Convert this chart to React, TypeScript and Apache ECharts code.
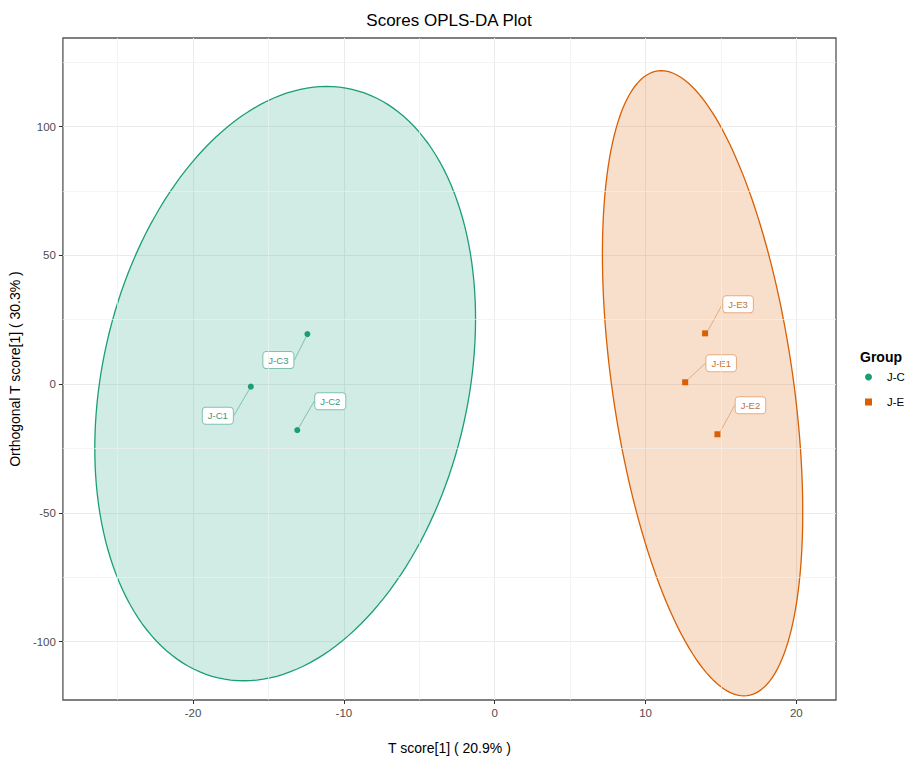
import React, { useEffect, useRef } from "react";
import * as echarts from "echarts";

// ---- data ----
const groupNames = ["J-C", "J-E"];
const groupColors = ["#1B9E77", "#D95F02"];
const groupFills = ["rgba(27,158,119,0.2)", "rgba(217,95,2,0.2)"];
const labelTextColors = ["#3f967c", "#c2743a"];
const labelBorderColors = ["#7fc2ad", "#e6ac80"];

const sampleNames = ["J-C1", "J-C2", "J-C3", "J-E1", "J-E2", "J-E3"];
const sampleGroups = ["J-C", "J-C", "J-C", "J-E", "J-E", "J-E"];
const tScore = [-16.17, -13.09, -12.42, 12.63, 14.77, 13.95];
const orthScore = [-1.0, -17.9, 19.4, 0.7, -19.5, 19.7];

// label box offsets (px) from each point, as placed by the repel layout
const labelOffsets: [number, number][] = [
  [-33, 29],
  [33, -29],
  [-29, 26],
  [36, -19],
  [33, -29],
  [33, -29],
];

// confidence ellipses (centred on each group mean), read off the picture as
// conjugate semi-diameters in data units:
// U = centre -> topmost point, V = centre -> right end of the horizontal chord
const ellipseU: [number, number][] = [
  [2.75, 115.4],
  [-2.74, 121.4],
];
const ellipseV: [number, number][] = [
  [12.32, 0],
  [6.05, 0],
];

// axis ticks / grid
const xMajorTicks = [-20, -10, 0, 10, 20];
const yMajorTicks = [-100, -50, 0, 50, 100];
const xMinorGrid = [-25, -15, -5, 5, 15];
const yMinorGrid = [-75, -25, 25, 75, 125];
const xRange = [-28.63, 22.63];
const yRange = [-122.7, 134.4];

const FONT = "'Liberation Sans', Arial, Helvetica, sans-serif";

export default function App() {
  const ref = useRef<HTMLDivElement>(null);

  useEffect(() => {
    if (!ref.current) return;
    const chart = echarts.init(ref.current, undefined, { renderer: "svg" });

    const ellipseSeries = groupNames.map((g, gi) => {
      const idx = sampleNames.map((_, i) => i).filter((i) => sampleGroups[i] === g);
      const cx = idx.reduce((s, i) => s + tScore[i], 0) / idx.length;
      const cy = idx.reduce((s, i) => s + orthScore[i], 0) / idx.length;
      const U = ellipseU[gi];
      const V = ellipseV[gi];
      return {
        type: "custom",
        name: "ellipse-" + g,
        silent: true,
        z: 1,
        data: [[cx, cy]],
        encode: { x: 0, y: 1 },
        renderItem: (params: any, api: any) => {
          const points: number[][] = [];
          const N = 180;
          for (let k = 0; k < N; k++) {
            const t = (2 * Math.PI * k) / N;
            const s = Math.sin(t);
            const c = Math.cos(t);
            points.push(api.coord([cx + U[0] * s + V[0] * c, cy + U[1] * s + V[1] * c]));
          }
          return {
            type: "polygon",
            shape: { points },
            style: {
              fill: groupFills[gi],
              stroke: groupColors[gi],
              lineWidth: 1.3,
            },
          };
        },
      };
    });

    const pointSeries = groupNames.map((g, gi) => {
      const idx = sampleNames.map((_, i) => i).filter((i) => sampleGroups[i] === g);
      return {
        type: "scatter",
        name: g,
        z: 3,
        symbol: gi === 0 ? "circle" : "rect",
        symbolSize: 6,
        itemStyle: { color: groupColors[gi], opacity: 1 },
        data: idx.map((i) => ({ name: sampleNames[i], value: [tScore[i], orthScore[i]] })),
        label: {
          show: true,
          position: "inside",
          formatter: "{b}",
          fontFamily: FONT,
          fontSize: 9.5,
          color: labelTextColors[gi],
          backgroundColor: "#ffffff",
          borderColor: labelBorderColors[gi],
          borderWidth: 1,
          borderRadius: 3,
          padding: [3, 5, 3, 5],
        },
        labelLine: {
          show: true,
          lineStyle: { color: labelBorderColors[gi], width: 1 },
        },
        labelLayout: (p: any) => {
          const off = labelOffsets[idx[p.dataIndex]];
          return { dx: off[0], dy: off[1] };
        },
        emphasis: { disabled: true },
      };
    });

    const gridHelper = {
      type: "scatter",
      name: "__minorgrid",
      z: 0,
      silent: true,
      data: [],
      markLine: {
        silent: true,
        symbol: ["none", "none"],
        label: { show: false },
        lineStyle: { color: "#EFEFEF", width: 0.7, type: "solid" },
        data: [
          ...xMinorGrid.map((v) => ({ xAxis: v })),
          ...yMinorGrid.map((v) => ({ yAxis: v })),
        ],
      },
    };

    chart.setOption({
      animation: false,
      backgroundColor: "#ffffff",
      textStyle: { fontFamily: FONT },
      title: [
        {
          text: "Scores OPLS-DA Plot",
          left: 449,
          top: 12,
          textAlign: "center",
          padding: 0,
          textStyle: { fontFamily: FONT, fontSize: 17, fontWeight: "normal", color: "#000" },
        },
        {
          text: "Group",
          left: 860,
          top: 350,
          padding: 0,
          textStyle: { fontFamily: FONT, fontSize: 14, fontWeight: "bold", color: "#000" },
        },
      ],
      legend: {
        data: [
          { name: "J-C", icon: "circle" },
          { name: "J-E", icon: "rect" },
        ],
        orient: "vertical",
        left: 865,
        top: 371,
        padding: 0,
        itemWidth: 7,
        itemHeight: 7,
        itemGap: 13,
        selectedMode: false,
        textStyle: { fontFamily: FONT, fontSize: 11.5, color: "#000", padding: [0, 0, 0, 10] },
      },
      grid: {
        left: 62,
        top: 38,
        width: 774,
        height: 662,
        show: true,
        backgroundColor: "#ffffff",
        borderColor: "#555555",
        borderWidth: 1.3,
      },
      xAxis: {
        type: "value",
        min: xRange[0],
        max: xRange[1],
        splitNumber: 5,
        name: "T score[1] ( 20.9% )",
        nameLocation: "middle",
        nameGap: 41,
        nameTextStyle: { fontFamily: FONT, fontSize: 14, color: "#000" },
        axisLine: { show: false, onZero: false },
        axisTick: { show: true, length: 4, customValues: xMajorTicks, lineStyle: { color: "#333", width: 1 } },
        axisLabel: {
          customValues: xMajorTicks,
          margin: 7,
          fontFamily: FONT,
          fontSize: 11.5,
          color: "#4D4D4D",
        },
        splitLine: { show: true, lineStyle: { color: "#EBEBEB", width: 1 } },
      },
      yAxis: {
        type: "value",
        min: yRange[0],
        max: yRange[1],
        splitNumber: 5,
        name: "Orthogonal T score[1] ( 30.3% )",
        nameLocation: "middle",
        nameGap: 30,
        nameTextStyle: { fontFamily: FONT, fontSize: 14, color: "#000" },
        axisLine: { show: false, onZero: false },
        axisTick: { show: true, length: 4, customValues: yMajorTicks, lineStyle: { color: "#333", width: 1 } },
        axisLabel: {
          customValues: yMajorTicks,
          margin: 7,
          fontFamily: FONT,
          fontSize: 11.5,
          color: "#4D4D4D",
        },
        splitLine: { show: true, lineStyle: { color: "#EBEBEB", width: 1 } },
      },
      series: [gridHelper, ...ellipseSeries, ...pointSeries],
    });

    return () => chart.dispose();
  }, []);

  return (
    <div
      ref={ref}
      style={{ position: "absolute", left: 0, top: 0, width: 908, height: 763 }}
    />
  );
}
